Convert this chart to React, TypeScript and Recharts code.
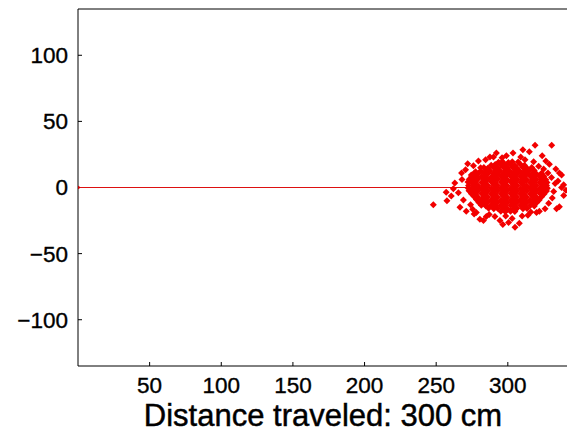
import { Scatter, ScatterChart, XAxis, YAxis } from "recharts";

// path of the robot: start point and the nominal end point
const pathPoints = [
  { x: 0, y: 0 },
  { x: 300, y: 0 },
];
const startPoint = [{ x: 0, y: 0 }];

const xTicks = [50, 100, 150, 200, 250, 300];
const yTicks = [-100, -50, 0, 50, 100];

// dense core of the end-position cloud
const cloudCore: [number, number][] = [
  [293.5, 19.1], [296.2, 19.6], [300.4, 19.0], [303.1, 19.5], [307.2, 19.2],
  [288.4, 16.9], [291.2, 17.4], [295.3, 16.8], [298.0, 17.3], [302.1, 17.0], [304.8, 16.7], [308.9, 17.4], [311.6, 16.9],
  [283.3, 15.2], [286.0, 14.6], [290.1, 15.1], [292.8, 14.7], [297.0, 15.3], [299.7, 14.8], [303.8, 15.0], [306.5, 14.5], [310.6, 15.2], [313.2, 14.8], [316.7, 15.1],
  [281.0, 12.5], [285.1, 13.0], [287.7, 12.4], [291.9, 12.9], [294.5, 12.6], [298.7, 13.1], [301.3, 12.5], [305.5, 12.8], [308.1, 12.4], [312.3, 13.0], [315.0, 12.6], [318.4, 12.9],
  [276.6, 10.7], [279.2, 10.3], [283.4, 10.8], [286.0, 10.4], [290.2, 10.6], [292.8, 10.2], [297.0, 10.8], [299.6, 10.3], [303.8, 10.7], [306.4, 10.2], [310.6, 10.8], [313.2, 10.4], [317.4, 10.6], [320.0, 10.3], [323.5, 10.7],
  [274.8, 8.1], [277.5, 8.6], [281.7, 8.2], [284.3, 8.5], [288.5, 8.0], [291.1, 8.4], [295.3, 8.6], [297.9, 8.1], [302.1, 8.5], [304.7, 8.0], [308.9, 8.4], [311.5, 8.2], [315.7, 8.6], [318.3, 8.0], [322.5, 8.3], [325.1, 8.5],
  [273.1, 6.3], [276.6, 5.9], [279.2, 6.4], [283.4, 6.0], [286.0, 6.2], [290.2, 5.8], [292.8, 6.4], [297.0, 6.1], [299.6, 5.9], [303.8, 6.3], [306.4, 6.0], [310.6, 6.4], [313.2, 5.8], [317.4, 6.2], [320.0, 6.0], [323.4, 6.3], [326.5, 5.9],
  [272.2, 4.1], [274.9, 3.7], [277.5, 4.2], [281.7, 3.8], [284.3, 4.0], [288.5, 4.3], [291.1, 3.6], [295.3, 4.1], [297.9, 3.8], [302.1, 4.2], [304.7, 3.7], [308.9, 4.0], [311.5, 4.3], [315.7, 3.7], [318.3, 4.1], [322.5, 3.8], [325.1, 4.2], [327.3, 3.7],
  [272.6, 1.5], [276.6, 1.9], [279.2, 1.4], [283.4, 1.8], [286.0, 1.6], [290.2, 2.0], [292.8, 1.5], [297.0, 1.9], [299.6, 1.4], [303.8, 1.8], [306.4, 1.6], [310.6, 2.0], [313.2, 1.4], [317.4, 1.9], [320.0, 1.5], [324.2, 1.8], [327.0, 1.6],
  [272.3, -0.3], [274.9, -0.7], [277.5, -0.2], [281.7, -0.6], [284.3, -0.4], [288.5, -0.8], [291.1, -0.3], [295.3, -0.6], [297.9, -0.2], [302.1, -0.7], [304.7, -0.4], [308.9, -0.8], [311.5, -0.3], [315.7, -0.6], [318.3, -0.2], [322.5, -0.7], [325.1, -0.4], [327.6, -0.6],
  [272.9, -2.5], [276.6, -2.9], [279.2, -2.4], [283.4, -2.8], [286.0, -2.6], [290.2, -3.0], [292.8, -2.5], [297.0, -2.9], [299.6, -2.4], [303.8, -2.8], [306.4, -2.6], [310.6, -3.0], [313.2, -2.5], [317.4, -2.9], [320.0, -2.4], [324.2, -2.8], [327.0, -2.6],
  [274.6, -4.7], [277.5, -5.1], [281.7, -4.6], [284.3, -5.0], [288.5, -4.8], [291.1, -5.2], [295.3, -4.7], [297.9, -5.1], [302.1, -4.6], [304.7, -5.0], [308.9, -4.8], [311.5, -5.2], [315.7, -4.7], [318.3, -5.1], [322.5, -4.6], [325.3, -5.0],
  [276.4, -6.9], [279.2, -7.3], [283.4, -6.8], [286.0, -7.2], [290.2, -7.0], [292.8, -7.4], [297.0, -6.9], [299.6, -7.3], [303.8, -6.8], [306.4, -7.2], [310.6, -7.0], [313.2, -7.4], [317.4, -6.9], [320.0, -7.3], [323.6, -7.0],
  [278.1, -9.1], [281.7, -9.5], [284.3, -9.0], [288.5, -9.4], [291.1, -9.2], [295.3, -9.6], [297.9, -9.1], [302.1, -9.5], [304.7, -9.0], [308.9, -9.4], [311.5, -9.2], [315.7, -9.6], [318.3, -9.1], [321.9, -9.4],
  [279.8, -11.3], [283.4, -11.7], [286.0, -11.2], [290.2, -11.6], [292.8, -11.4], [297.0, -11.8], [299.6, -11.3], [303.8, -11.7], [306.4, -11.2], [310.6, -11.6], [313.2, -11.4], [317.4, -11.8], [320.2, -11.3],
  [281.5, -13.5], [284.7, -13.9], [288.5, -13.4], [291.1, -13.8], [295.3, -13.6], [297.9, -14.0], [302.1, -13.5], [304.7, -13.9], [308.9, -13.4], [311.5, -13.8], [315.7, -13.6], [318.5, -13.9],
  [286.6, -15.7], [290.2, -16.1], [292.8, -15.6], [297.0, -16.0], [299.6, -15.8], [303.8, -16.2], [306.4, -15.7], [310.6, -16.1], [313.4, -15.8],
  [295.1, -17.9], [298.3, -18.3], [301.9, -18.0], [304.9, -18.2],
];

// scattered points around the rim of the cloud
const cloudEdge: [number, number][] = [
  [248.0, -13.0], [257.0, -3.5], [257.5, -10.0], [263.0, 3.4], [260.5, -6.5], [262.0, -1.0], [265.5, -4.0], [266.6, -15.0],
  [268.0, 6.0], [267.7, 11.0], [269.0, -9.5], [270.5, 13.5], [271.0, -18.0], [272.0, 18.0], [274.0, -13.0], [276.0, 16.5],
  [276.5, -20.0], [279.5, 20.0], [280.5, -24.0], [283.0, -25.0], [284.5, 21.0], [287.5, 23.0], [287.0, -20.5], [290.0, 23.0],
  [291.0, -22.0], [294.5, -25.0], [296.0, 22.5], [296.5, -28.0], [299.0, 24.0], [298.5, -21.5], [303.6, 26.0], [303.0, -23.5],
  [305.0, -30.0], [308.0, -27.0], [309.0, 23.0], [310.0, -21.5], [312.0, 21.0], [314.0, -21.0], [315.0, 27.0], [316.0, -18.5],
  [318.0, 19.5], [319.0, 32.0], [320.0, -19.0], [321.5, 16.0], [322.0, -18.0], [324.0, 24.0], [325.0, 14.0], [326.0, -16.0],
  [328.0, 11.0], [328.5, -12.0], [330.6, 32.0], [330.5, 7.5], [331.0, -8.0], [332.0, -3.0], [333.0, 3.0], [334.0, -16.0],
  [335.0, 5.0], [336.0, -14.5], [336.0, 11.0], [337.5, 9.4], [337.5, 0.0], [339.0, 2.0], [339.0, -6.0], [340.5, -2.0],
  [329.0, 17.5], [326.5, 20.0], [281.0, 15.0], [277.5, 12.0], [274.5, 9.5], [275.5, -16.5], [278.0, -19.0], [285.0, -22.0],
  [300.5, -26.5], [292.0, 26.0], [310.5, 28.5], [333.5, 14.0],
];

const cloudData = [...cloudCore, ...cloudEdge].map(([x, y]) => ({ x, y }));

const Diamond = (props: any) => {
  const { cx, cy } = props;
  const r = 3.5;
  return (
    <path
      d={`M${cx},${cy - r}L${cx + r},${cy}L${cx},${cy + r}L${cx - r},${cy}Z`}
      fill="#f20000"
    />
  );
};

const Nothing = () => <g />;

const StartDot = (props: any) => <circle cx={props.cx} cy={props.cy} r={1.8} fill="#cc0000" />;

const tickStyle = { fontSize: 22.5, fill: "#000", stroke: "#000", strokeWidth: 0.35 };

export default function App() {
  return (
    <div
      style={{
        position: "fixed",
        left: 0,
        top: 0,
        width: 567,
        height: 433,
        overflow: "hidden",
        background: "#fff",
      }}
    >
      <ScatterChart
        width={570}
        height={433}
        margin={{ top: 8, right: 1, bottom: 66, left: 77 }}
        style={{ fontFamily: "'Liberation Sans', Arial, sans-serif" }}
      >
        <XAxis
          dataKey="x"
          type="number"
          domain={[0, 342]}
          allowDataOverflow
          ticks={xTicks}
          height={1}
          tickSize={-4}
          tickMargin={15}
          axisLine={{ stroke: "#000" }}
          tickLine={{ stroke: "#000" }}
          tick={tickStyle}
          label={{
            value: "Distance traveled: 300 cm",
            position: "bottom",
            offset: 37,
            fontSize: 31,
            fill: "#000",
            stroke: "#000",
            strokeWidth: 0.45,
          }}
        />
        <XAxis
          xAxisId="top"
          orientation="top"
          type="number"
          domain={[0, 342]}
          allowDataOverflow
          ticks={xTicks}
          height={1}
          tickSize={-4}
          axisLine={{ stroke: "#000" }}
          tickLine={{ stroke: "#000" }}
          tick={false}
        />
        <YAxis
          dataKey="y"
          type="number"
          domain={[-135, 135]}
          allowDataOverflow
          ticks={yTicks}
          width={1}
          tickSize={-4}
          tickMargin={14}
          axisLine={{ stroke: "#000" }}
          tickLine={{ stroke: "#000" }}
          tick={tickStyle}
          tickFormatter={(v) => (v < 0 ? `\u2212${Math.abs(v)}` : `${v}`)}
        />
        <YAxis
          yAxisId="right"
          orientation="right"
          type="number"
          domain={[-135, 135]}
          allowDataOverflow
          ticks={yTicks}
          width={1}
          tickSize={-4}
          axisLine={{ stroke: "#000" }}
          tickLine={{ stroke: "#000" }}
          tick={false}
        />
        <Scatter
          data={pathPoints}
          line={{ stroke: "#dd1111", strokeWidth: 1 }}
          shape={Nothing}
          isAnimationActive={false}
        />
        <Scatter data={startPoint} shape={StartDot} isAnimationActive={false} />
        <Scatter data={cloudData} shape={Diamond} isAnimationActive={false} />
      </ScatterChart>
    </div>
  );
}
